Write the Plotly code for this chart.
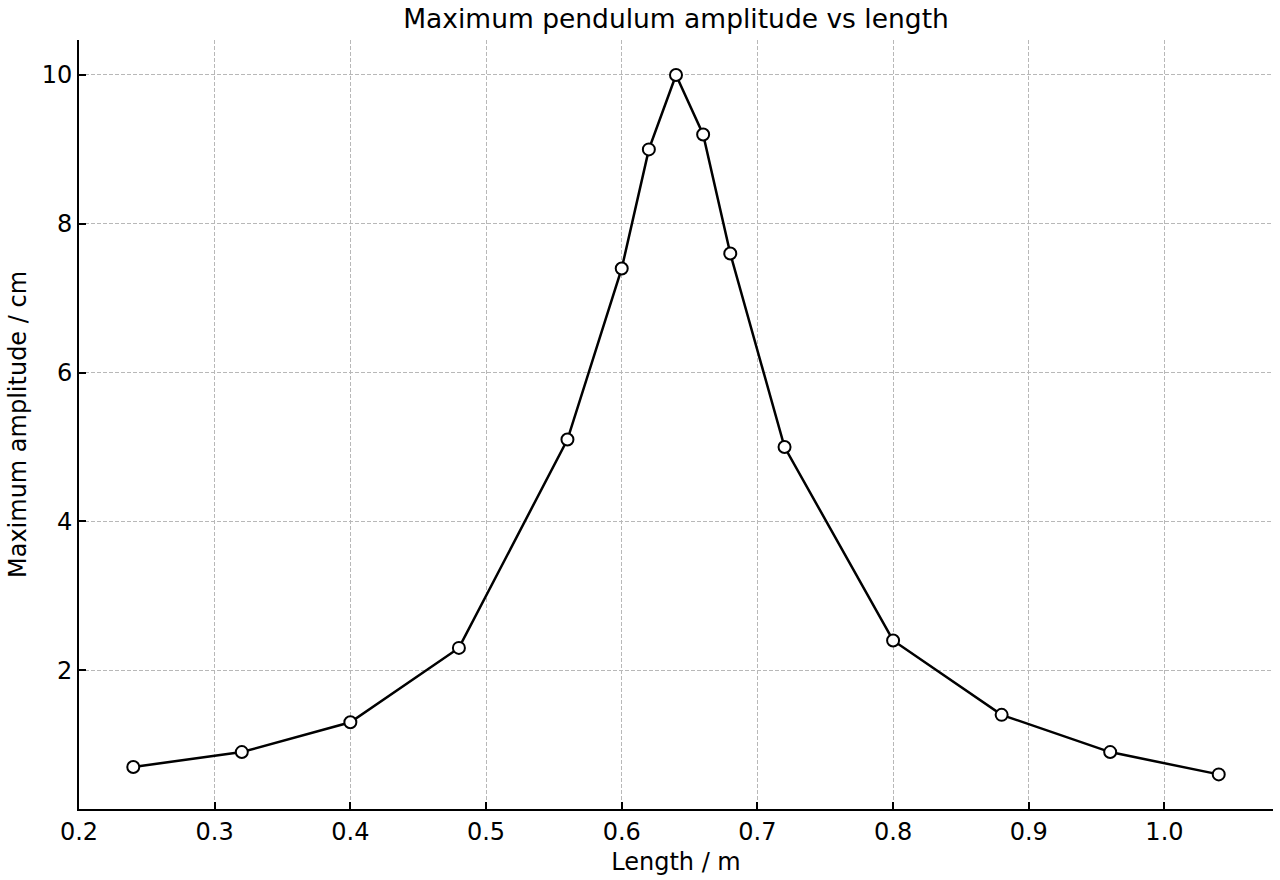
import plotly.graph_objects as go

length_m = [0.24, 0.32, 0.40, 0.48, 0.56, 0.60, 0.62, 0.64, 0.66, 0.68, 0.72, 0.80, 0.88, 0.96, 1.04]
amplitude_cm = [0.7, 0.9, 1.3, 2.3, 5.1, 7.4, 9.0, 10.0, 9.2, 7.6, 5.0, 2.4, 1.4, 0.9, 0.6]
x_ticks = [0.2, 0.3, 0.4, 0.5, 0.6, 0.7, 0.8, 0.9, 1.0]
x_tick_labels = ["0.2", "0.3", "0.4", "0.5", "0.6", "0.7", "0.8", "0.9", "1.0"]
y_ticks = [2, 4, 6, 8, 10]

fig = go.Figure()
fig.add_trace(go.Scatter(
    x=length_m, y=amplitude_cm, mode="lines+markers",
    line=dict(color="black", width=2.5),
    marker=dict(symbol="circle", size=12, color="white", line=dict(color="black", width=2)),
    showlegend=False,
))

font = "DejaVu Sans"
fig.update_layout(
    width=1280, height=880,
    margin=dict(l=79, r=7, t=40, b=71),
    paper_bgcolor="white", plot_bgcolor="white",
    title=dict(text="Maximum pendulum amplitude vs length", x=0.5, xref="paper", xanchor="center",
               y=1 - 19/880, yanchor="middle", font=dict(family=font, size=26.5, color="black")),
    font=dict(family=font, size=24, color="black"),
)
fig.update_xaxes(
    range=[0.2, 1.08], tickvals=x_ticks, ticktext=x_tick_labels,
    ticks="inside", ticklen=7, tickwidth=2, tickcolor="black",
    showline=True, linecolor="black", linewidth=2,
    showgrid=True, gridcolor="#b8b8b8", griddash="4px,2px", gridwidth=1,
    zeroline=False, tickfont=dict(family=font, size=24, color="black"),
    title=dict(text="Length / m", font=dict(family=font, size=24, color="black"), standoff=8),
)
fig.update_yaxes(
    range=[0.135, 10.47], tickvals=y_ticks,
    ticks="inside", ticklen=7, tickwidth=2, tickcolor="black",
    showline=True, linecolor="black", linewidth=2,
    showgrid=True, gridcolor="#b8b8b8", griddash="4px,2px", gridwidth=1,
    zeroline=False, tickfont=dict(family=font, size=24, color="black"),
    title=dict(text="Maximum amplitude / cm", font=dict(family=font, size=24, color="black"), standoff=8),
)

fig.write_html("out.html")
